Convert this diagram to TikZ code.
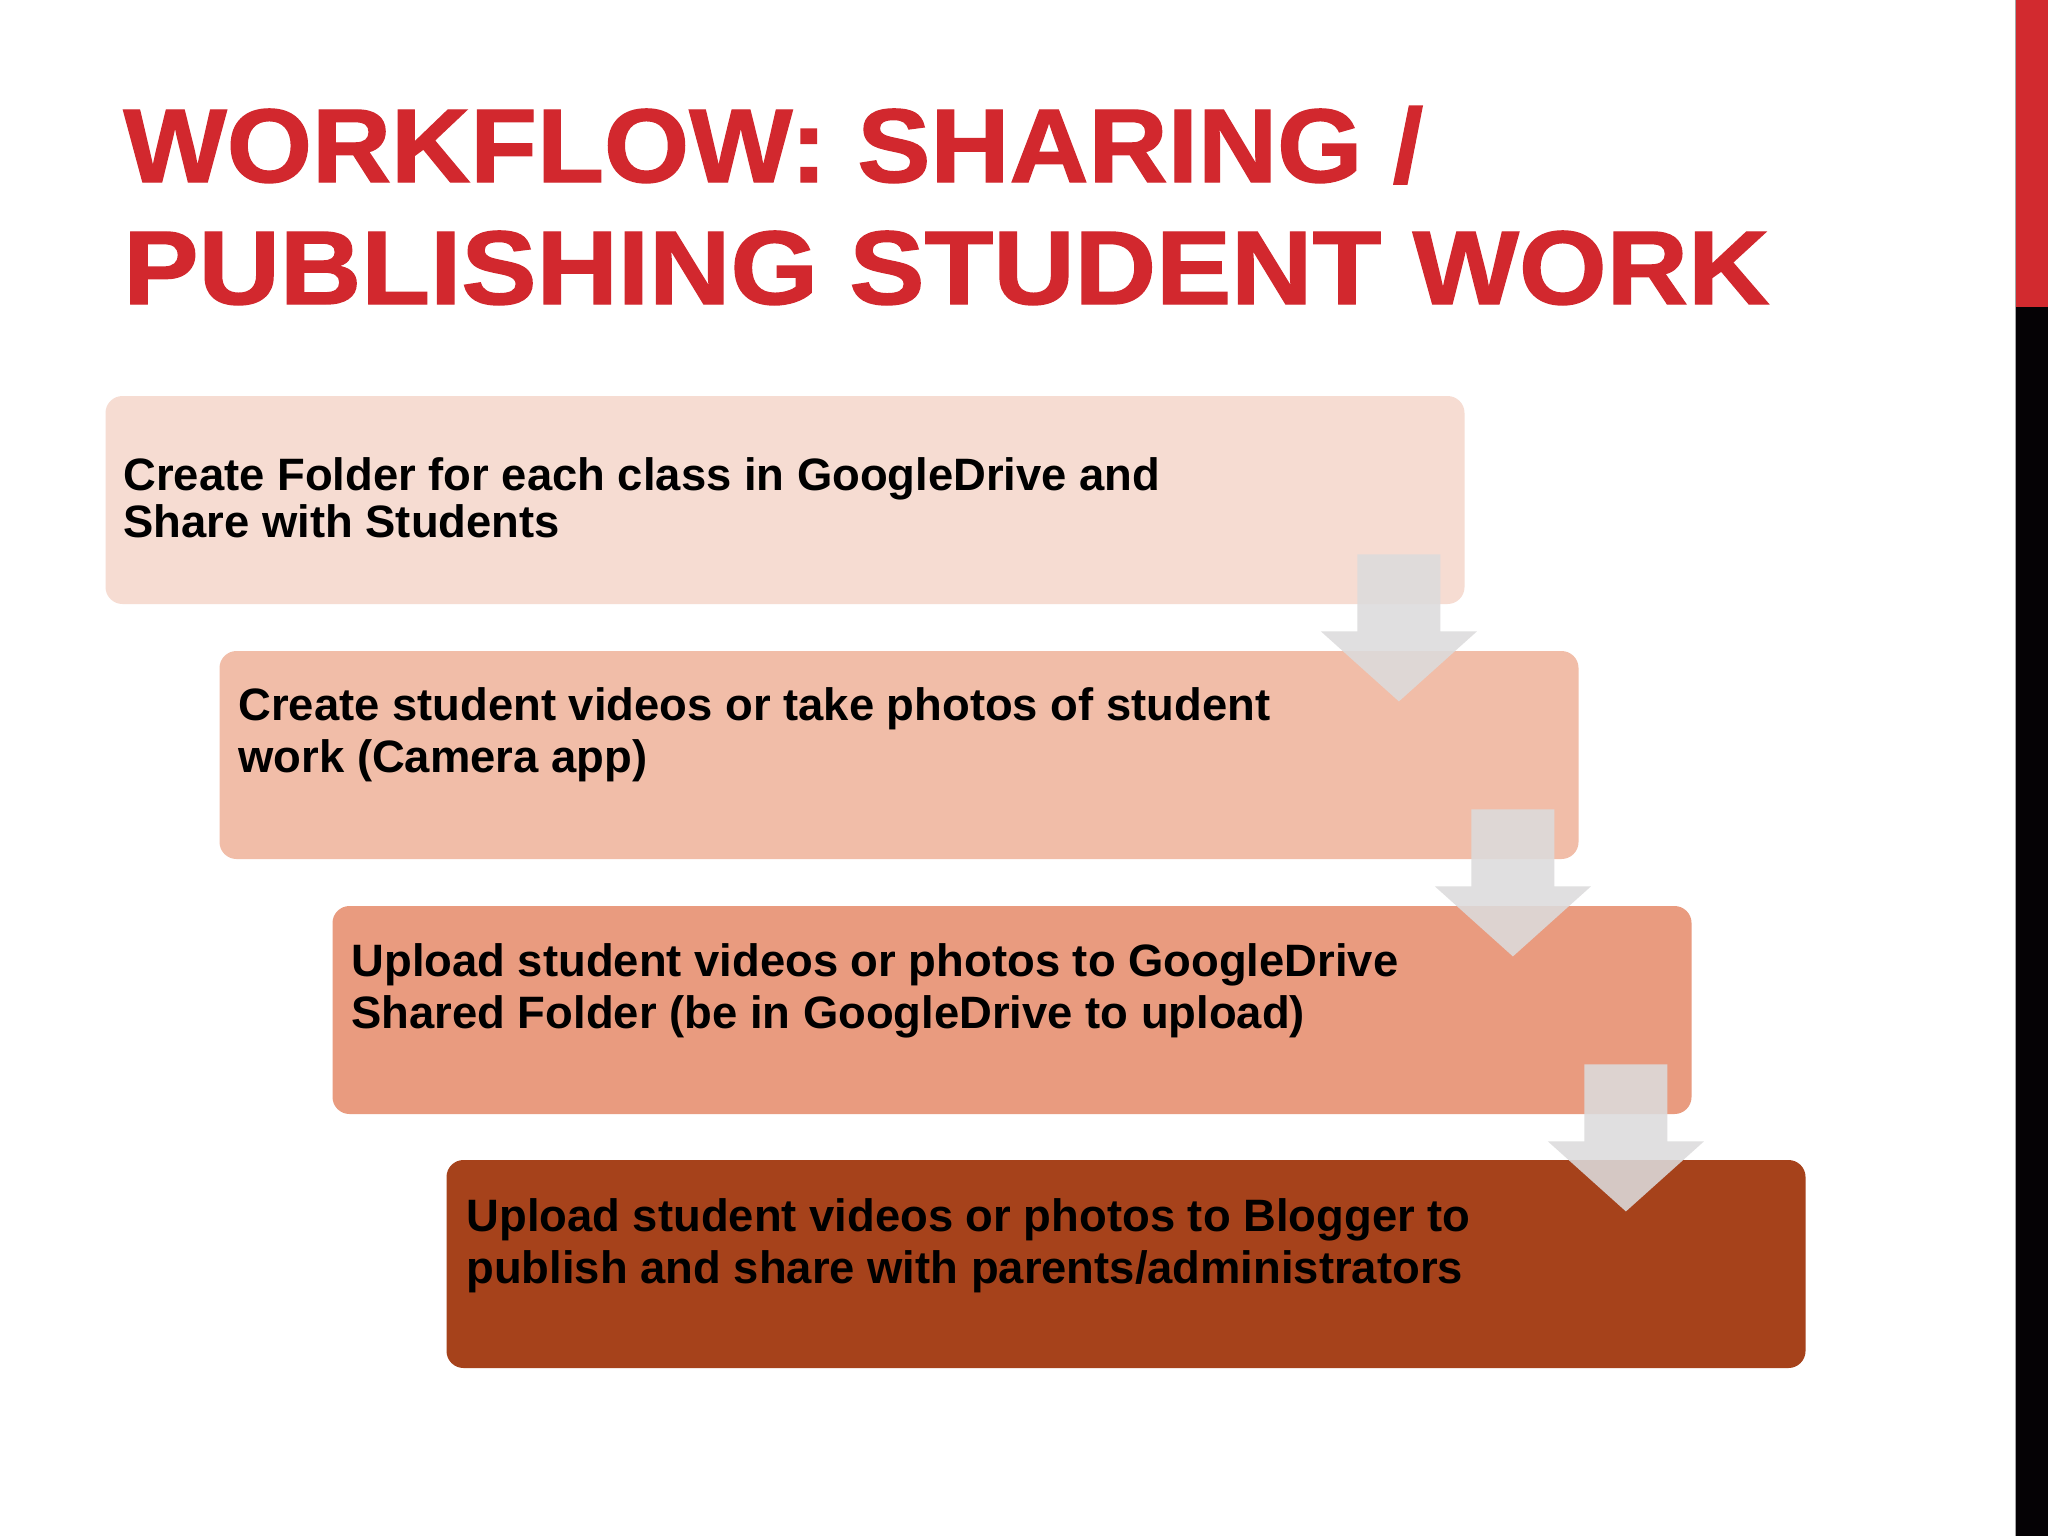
\documentclass[tikz,border=0pt]{standalone}
\usepackage{fontspec}
\setmainfont{Liberation Sans}
\newfontfamily\titlefont{Liberation Sans}[BoldFeatures={FakeBold=1.3}]
\usetikzlibrary{calc}
\definecolor{titlered}{HTML}{D2282E}
\definecolor{barred}{HTML}{D22A2F}
\definecolor{barblack}{HTML}{050205}
\definecolor{fillA}{HTML}{F6DCD2}
\definecolor{fillB}{HTML}{F1BDA8}
\definecolor{fillC}{HTML}{E99B7F}
\definecolor{fillD}{HTML}{A6421B}
\definecolor{arrowgray}{HTML}{DCDBDC}
\begin{document}
\begin{tikzpicture}[x=0.5pt,y=-0.5pt,
  stepbox/.style={rounded corners=8.5pt, minimum width=679.5pt, minimum height=104pt, inner sep=0pt, draw=none},
  boxtext/.style={anchor=base west, inner sep=0pt, text=black},
  arrowfill/.style={fill=arrowgray, fill opacity=0.88}]
% canvas
\fill[white] (0,0) rectangle (2048,1536);
\useasboundingbox (0,0) rectangle (2048,1536);
% side bar
\fill[barred] (2015,0) rectangle (2048,307);
\fill[barblack] (2015,307) rectangle (2048,1536);
\draw[gray!70, line width=0.5pt] (2015,0) -- (2015,1536);
% title
\node[anchor=base west, inner sep=0pt, text=titlered, font=\titlefont\bfseries\fontsize{52.35}{61}\selectfont] (title) at (123,182)
  {\parbox[t]{900pt}{\raggedright \scalebox{1.046}[1]{WORKFLOW: SHARING /}\\\scalebox{1.076}[1]{PUBLISHING STUDENT WORK}}};
% boxes
\node[stepbox, fill=fillA] (b1) at (785,500) {};
\node[stepbox, fill=fillB] (b2) at (899,755) {};
\node[stepbox, fill=fillC] (b3) at (1012,1010) {};
\node[stepbox, fill=fillD] (b4) at (1126,1264) {};
% texts
\node[boxtext, font=\bfseries\fontsize{22.7}{23.6}\selectfont] (t1) at ($(b1.north west)+(18,95)$)
  {\parbox[t]{640pt}{\raggedright Create Folder for each class in GoogleDrive and\\Share with Students}};
\node[boxtext, font=\bfseries\fontsize{22.7}{25.8}\selectfont] (t2) at ($(b2.north west)+(19,70)$)
  {\parbox[t]{640pt}{\raggedright Create student videos or take photos of student\\work (Camera app)}};
\node[boxtext, font=\bfseries\fontsize{22.7}{25.8}\selectfont] (t3) at ($(b3.north west)+(19,71)$)
  {\parbox[t]{640pt}{\raggedright Upload student videos or photos to GoogleDrive\\Shared Folder (be in GoogleDrive to upload)}};
\node[boxtext, font=\bfseries\fontsize{22.7}{25.8}\selectfont] (t4) at ($(b4.north west)+(20,72)$)
  {\parbox[t]{640pt}{\raggedright Upload student videos or photos to Blogger to\\publish and share with parents/administrators}};
% arrow tips
\coordinate (a1) at ($(b1.south east)+(-66,97)$);
\coordinate (a2) at ($(b2.south east)+(-66,97)$);
\coordinate (a3) at ($(b3.south east)+(-66,97)$);
\foreach \t in {a1,a2,a3}{
  \path[arrowfill] (\t) -- ++(78,-70) -- ++(-36.5,0) -- ++(0,-77) -- ++(-83,0) -- ++(0,77) -- ++(-36.5,0) -- cycle;
}
\end{tikzpicture}
\end{document}
